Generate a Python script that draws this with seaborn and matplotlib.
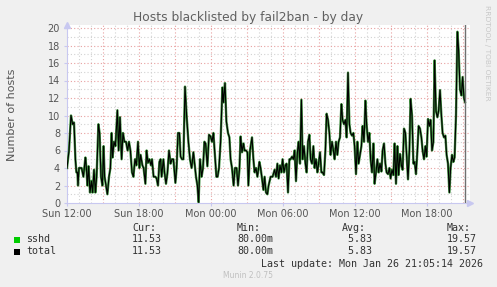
import matplotlib
matplotlib.use("Agg")
import matplotlib.pyplot as plt
from matplotlib.patches import Rectangle
import numpy as np
import pandas as pd
import seaborn as sns

# ---------------- data ----------------
# minutes since Sun 12:00
minutes = [
    0, 10, 20, 28, 35, 42, 47, 52, 55, 60, 73, 82, 92, 97, 102, 108, 115, 122, 128, 135,
    142, 148, 157, 163, 170, 177, 183, 188, 195, 202, 210, 217, 223, 228, 235, 242, 252, 258, 265, 273,
    280, 287, 295, 303, 310, 317, 325, 332, 340, 347, 355, 362, 368, 377, 383, 392, 398, 405, 412, 420,
    425, 433, 442, 448, 455, 462, 468, 473, 482, 488, 495, 502, 510, 518, 525, 532, 542, 548, 555, 562,
    568, 575, 582, 590, 598, 607, 615, 623, 632, 638, 645, 652, 658, 665, 673, 680, 687, 693, 702, 710,
    718, 725, 732, 738, 747, 753, 760, 768, 777, 782, 790, 797, 805, 812, 818, 825, 833, 840, 848, 855,
    862, 868, 875, 882, 888, 895, 902, 907,
    915, 925, 932, 938, 945, 952, 962, 968, 975, 982, 988, 995, 1002, 1008, 1018, 1028, 1038, 1045, 1052, 1058,
    1065, 1072, 1078, 1085, 1092, 1098, 1105, 1112, 1118, 1125, 1132, 1138, 1145, 1152, 1158, 1165, 1172, 1178, 1185, 1192,
    1198, 1205, 1212, 1218, 1225, 1232, 1238, 1245, 1252, 1258, 1265, 1272, 1278, 1285, 1292, 1298, 1305, 1312, 1318, 1325,
    1332, 1338, 1345, 1352, 1358, 1365, 1372, 1378, 1385, 1392, 1398, 1405, 1412, 1418, 1425, 1432, 1438, 1445, 1452, 1458,
    1465, 1472, 1478, 1485, 1492, 1498, 1505, 1512, 1518, 1525, 1532, 1538, 1545, 1552, 1558, 1565, 1572, 1578, 1585, 1592,
    1598, 1605, 1612, 1618, 1625, 1632, 1638, 1645, 1652, 1658, 1665, 1672, 1678, 1685, 1692, 1698, 1705, 1712, 1718, 1725,
    1732, 1738, 1745, 1752, 1758, 1765, 1772, 1778, 1785, 1792, 1798, 1805, 1812, 1818, 1825, 1832, 1838, 1845, 1852, 1858,
    1865, 1872, 1878, 1885, 1892, 1898, 1905, 1912, 1918, 1925, 1932, 1938, 1945, 1952, 1958, 1965, 1972, 1978, 1985, 1990,
]
sshd = [
    4, 6, 10, 9, 9.2, 5, 3.5, 3.5, 2, 4, 4, 3, 5.2, 4, 2, 4.2, 1.2, 2.5, 1.2, 3.8,
    1.2, 3, 9, 8, 3, 2, 6.5, 3, 2, 1, 3, 4, 8, 5.2, 7, 6.5, 10.6, 6, 9.8, 5,
    8, 7, 7, 6, 7, 6, 3.5, 3, 5, 4.3, 7, 4, 5.5, 4.3, 4, 2.2, 6, 4.6, 5, 4.3,
    5, 3, 3, 2.8, 2, 4.7, 5, 3, 5, 3.4, 2.2, 3.4, 6, 4.5, 5, 5, 2.3, 4, 8, 8,
    5.3, 5, 5, 13.3, 10, 7, 5, 4, 5.8, 4.5, 3, 2, 0.08, 5, 3, 4, 7, 6.8, 4.2, 7.8,
    7.6, 7, 8, 6, 3, 3, 4, 7, 13.2, 11.5, 13.7, 9.3, 8, 7.5, 5, 4, 2, 4, 4, 2,
    3.8, 7.6, 5.8, 6.8, 6, 6, 5.8, 2,
    6, 7.5, 5, 3.5, 4, 3, 4.7, 4, 2.8, 1.5, 3, 1.2, 1, 2, 3, 3, 3.8, 3, 4.5, 2.8,
    4.3, 3.5, 5, 3.5, 4.3, 4.5, 1.2, 5, 5, 5.3, 5, 6, 2.5, 5.8, 7, 4.5, 11.8, 5, 6.5, 4.5,
    3.5, 7, 7.8, 5, 4.5, 6.5, 4, 5, 3.5, 4.5, 5.8, 3.5, 3.5, 3.2, 6, 10.2, 9.5, 8, 5.5, 7,
    6, 5, 7, 5.5, 7, 7.5, 11.3, 9.5, 9, 9.5, 7.5, 14.9, 9, 8, 7.7, 8, 6.5, 3.3, 7, 4.5,
    5.5, 6.5, 8.8, 7, 11.7, 9, 7, 8, 5, 3.5, 6.8, 2.2, 3.5, 5, 3.5, 4.5, 3.6, 6, 6.8, 4.5,
    3.5, 3.3, 4, 2.8, 3.8, 3.2, 6.8, 2.2, 6.5, 3.2, 5.6, 4.3, 3.8, 8.5, 8, 5.5, 2.7, 6, 11.9, 10,
    4.5, 4.7, 3.3, 6, 8.8, 8.5, 7.5, 6, 5, 6.5, 5.3, 9.6, 8.8, 9.5, 6, 7, 16.3, 10.5, 9.8, 10.5,
    12.9, 10, 8, 7.5, 7.7, 5.5, 4.5, 1.2, 4, 5.5, 4.7, 5.2, 10, 19.57, 17.5, 13, 12.3, 14.4, 12, 11.53,
]
total = list(sshd)

tick_minutes = [0, 360, 720, 1080, 1440, 1800]
tick_labels = ["Sun 12:00", "Sun 18:00", "Mon 00:00", "Mon 06:00", "Mon 12:00", "Mon 18:00"]
y_ticks = [0, 2, 4, 6, 8, 10, 12, 14, 16, 18, 20]

legend_names = ["sshd", "total"]
legend_colors = ["#00CC00", "#000000"]
col_headers = ["Cur:", "Min:", "Avg:", "Max:"]
sshd_stats = ["11.53", "80.00m", " 5.83", "19.57"]
total_stats = ["11.53", "80.00m", " 5.83", "19.57"]

title = "Hosts blacklisted by fail2ban - by day"
ylabel = "Number of hosts"
last_update = "Last update: Mon Jan 26 21:05:14 2026"
footer = "Munin 2.0.75"
side_text = "RRDTOOL / TOBI OETIKER"
now_minute = 1990

df = pd.DataFrame({"minute": minutes, "sshd": sshd, "total": total})

# ---------------- figure ----------------
W, H = 497, 287
fig = plt.figure(figsize=(W / 100, H / 100), dpi=100, facecolor="#F0F0F0")

def fx(px):
    return px / W

def fy(py):
    return 1 - py / H

ax_left, ax_right, ax_top, ax_bottom = 67, 470, 25, 203
ax = fig.add_axes([fx(ax_left), fy(ax_bottom), (ax_right - ax_left) / W, (ax_bottom - ax_top) / H])
ax.set_facecolor("white")

xmax = (ax_right - ax_left) / 12 * 60
ax.set_xlim(0, xmax)
ax.set_ylim(0, 20 * (ax_bottom - ax_top) / 175)

# grid
for m in np.arange(60, xmax, 60):
    major = (m % 180 == 0)
    ax.axvline(m, color="#E8A0A0" if major else "#D2D2D2", lw=0.8,
               ls=(0, (1, 2)), zorder=0.5)
for v in range(1, 21):
    major = (v % 2 == 0)
    ax.axhline(v, color="#E8A0A0" if major else "#D2D2D2", lw=0.8,
               ls=(0, (1, 2)), zorder=0.5)

sns.lineplot(data=df, x="minute", y="sshd", ax=ax, color="#3E8E3E", lw=1.7, zorder=3)
sns.lineplot(data=df, x="minute", y="total", ax=ax, color=legend_colors[1], lw=0.8, zorder=4)

ax.axvline(now_minute, color="#707070", lw=1.0, zorder=5)

for s in ["top", "right"]:
    ax.spines[s].set_visible(False)
for s in ["left", "bottom"]:
    ax.spines[s].set_color("#C8C8F0")
    ax.spines[s].set_linewidth(0.8)
ax.plot([1.0], [0.0], marker=">", color="#C8C8F0", markersize=4, transform=ax.transAxes, clip_on=False)
ax.plot([0.0], [1.0], marker="^", color="#C8C8F0", markersize=4, transform=ax.transAxes, clip_on=False)

ax.set_xticks(tick_minutes)
ax.set_xticklabels(tick_labels)
ax.set_yticks(y_ticks)
ax.set_yticklabels([str(v) for v in y_ticks])
ax.tick_params(axis="both", length=2, color="#C8C8F0", labelsize=7, labelcolor="#555555")
ax.tick_params(axis="y", pad=3)
ax.tick_params(axis="x", pad=2)
ax.set_xlabel("")
ax.set_ylabel("")

fig.text(fx(248.5), fy(17), title, ha="center", va="center", fontsize=8.8, color="#606060")
fig.text(fx(12), fy(115), ylabel, ha="center", va="center", rotation=90, fontsize=8.0, color="#555555")
fig.text(fx(487), fy(5), side_text, ha="center", va="top", rotation=270, fontsize=5.4, color="#C8C8C8")

mono = dict(family="DejaVu Sans Mono", fontsize=7.2, color="#333333", va="center")
col_x = [132, 237, 342, 447]
for cx, h in zip(col_x, col_headers):
    fig.text(fx(cx), fy(228), h, ha="left", **mono)
rows_y = [239.5, 251.5]
for ry, name, colr, stats in zip(rows_y, legend_names, legend_colors, [sshd_stats, total_stats]):
    fig.patches.append(Rectangle((fx(14), fy(ry + 3)), 6 / W, 6 / H, transform=fig.transFigure,
                                 facecolor=colr, edgecolor="none"))
    fig.text(fx(26), fy(ry), name, ha="left", **mono)
    for cx, st in zip(col_x, stats):
        fig.text(fx(cx), fy(ry), st, ha="left", **mono)
fig.text(fx(483), fy(264), last_update, ha="right", **mono)
fig.text(fx(248), fy(276), footer, ha="center", va="center", fontsize=5.5, color="#C0C0C0")

fig.savefig("out.png", dpi=100, facecolor=fig.get_facecolor())
